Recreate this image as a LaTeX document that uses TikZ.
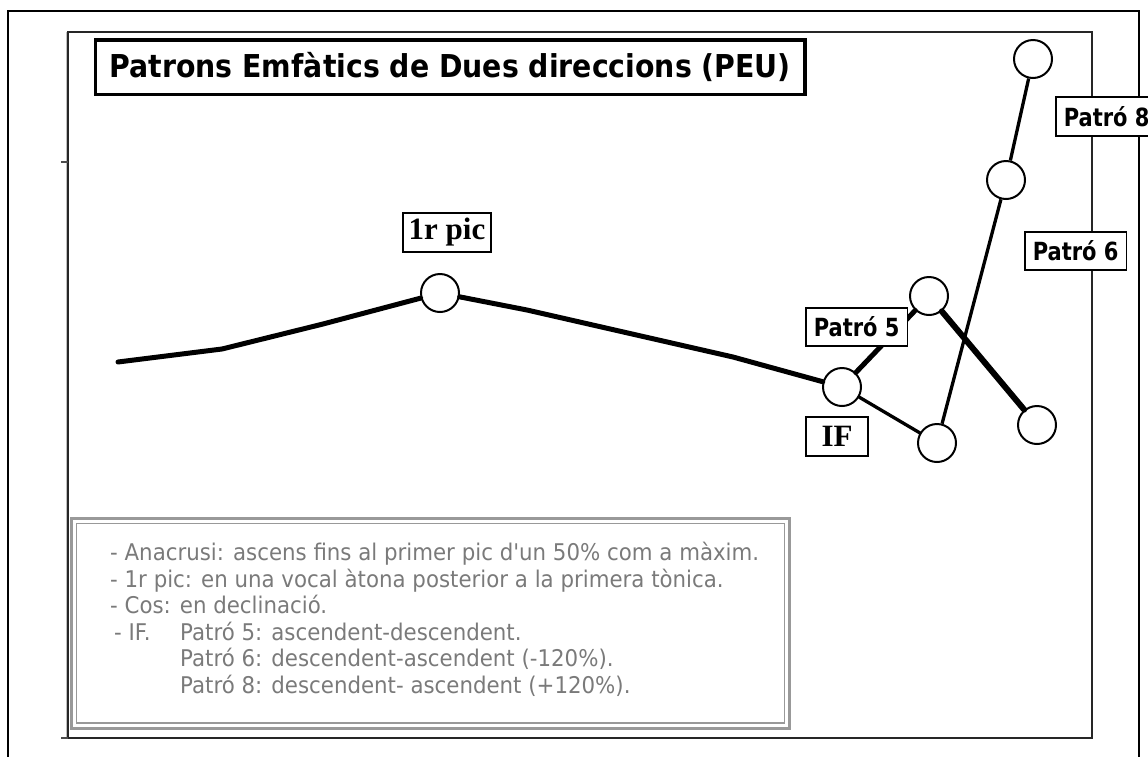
\documentclass[tikz,border=0pt]{standalone}
\usepackage{fontspec}
\newfontfamily\legf[FakeStretch=0.927]{DejaVu Sans}
\newfontfamily\titlef[FakeStretch=0.90]{DejaVu Sans}
\newfontfamily\labf[FakeStretch=0.84]{DejaVu Sans}
\newfontfamily\timesf{Liberation Serif}
\definecolor{legendgray}{HTML}{7A7A7A}
\definecolor{framegray}{HTML}{999999}
\tikzset{
  pt/.style={circle, draw, fill=white, line width=2pt, minimum size=38pt, inner sep=0pt},
  serifbox/.style={draw, fill=white, line width=1.5pt, inner sep=0pt, font=\timesf\bfseries\fontsize{31}{33}\selectfont},
  sansbox/.style={draw, fill=white, line width=1.5pt, inner xsep=8pt, inner ysep=0pt, anchor=west, font=\labf\bfseries\fontsize{25}{27}\selectfont},
  legendtext/.style={anchor=base west, inner sep=0pt, text=legendgray, font=\legf\fontsize{23}{26}\selectfont},
  thickline/.style={line width=5pt, line join=round, line cap=round},
  thinline/.style={line width=3.3pt, line join=round, line cap=round},
}
\begin{document}
\begin{tikzpicture}[x=1pt, y=-1pt]
\useasboundingbox (0,0) rectangle (1148,756);
% outer frame
\draw[line width=1.5pt] (8,770) -- (8,11) -- (1139,11) -- (1139,770);
% inner plot frame
\draw[line width=2.5pt, black!25] (67,738) -- (67,32);
\draw[line width=1.5pt, black!85] (68,738) -- (68,32) -- (1092,32) -- (1092,738) -- cycle;
\draw[line width=1.2pt, black!70] (61,162) -- (68,162);
\draw[line width=1.2pt, black!70] (61,738) -- (68,738);
% title
\node[draw, line width=3.5pt, inner sep=0pt, minimum width=709.5pt, minimum height=54.5pt,
      font=\titlef\bfseries\fontsize{31.5}{33}\selectfont] (title) at (450.25,67.25)
      {Patrons Emfàtics de Dues direccions (PEU)};
% points of the curve
\coordinate (s0) at (118,362);
\coordinate (s1) at (222,349);
\coordinate (s2) at (323,324);
\coordinate (s3) at (527,310);
\coordinate (s4) at (733,357);
\node[pt] (pic) at (440,293) {};
\node[pt] (if) at (842,387) {};
\node[pt] (p5) at (929,296) {};
\node[pt] (p5e) at (1037,425) {};
\node[pt] (low) at (937,443) {};
\node[pt] (mid) at (1006,180) {};
\node[pt] (top) at (1033,59) {};
% connectors
\draw[thickline] (s0) -- (s1) -- (s2) -- (pic);
\draw[thickline] (pic) -- (s3) -- (s4) -- (if);
\draw[thickline] (if) -- (p5);
\draw[line width=6pt, line cap=round] (p5) -- (p5e);
\draw[thinline] (if) -- (low);
\draw[line width=3.3pt] (low) -- (mid);
\draw[line width=3.3pt] (mid) -- (top);
% labels
\node[serifbox, minimum width=88pt, minimum height=39pt] (lpic) at (447,232.5) {1r pic};
\node[serifbox, minimum width=62pt, minimum height=39pt] (lif) at (837,436.5) {IF};
\node[sansbox, minimum height=38pt] (l5) at (805,327) {Patró 5};
\node[sansbox, minimum height=38pt] (l6) at (1024,251) {Patró 6};
\node[sansbox, minimum height=39pt] (l8) at (1055,116.5) {Patró 8};
% legend
\draw[framegray, line width=2.5pt] (71.5,518.5) rectangle (789.5,728.5);
\draw[framegray, line width=1.7pt] (76.5,523.5) rectangle (784.5,723);
\node[legendtext] (g1) at (110,560.5) {- Anacrusi: ascens fins al primer pic d'un 50\% com a màxim.};
\node[legendtext] (g2) at (110,587) {- 1r pic: en una vocal àtona posterior a la primera tònica.};
\node[legendtext] (g3) at (110,613.5) {- Cos: en declinació.};
\node[legendtext] (g4) at (114,640) {\makebox[66pt][l]{- IF.}Patró 5: ascendent-descendent.};
\node[legendtext] (g5) at (180,666.5) {Patró 6: descendent-ascendent (-120\%).};
\node[legendtext] (g6) at (180,693) {Patró 8: descendent- ascendent (+120\%).};
\end{tikzpicture}
\end{document}
